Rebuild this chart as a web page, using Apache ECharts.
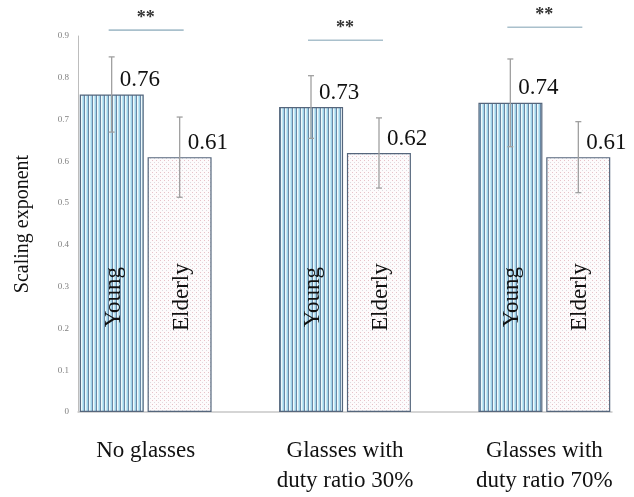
<!DOCTYPE html>
<html>
<head>
<meta charset="utf-8">
<script src="https://cdn.jsdelivr.net/npm/echarts@6/dist/echarts.min.js"></script>
<style>html,body{margin:0;padding:0;background:#fff;}#c{width:634px;height:497px;}</style>
</head>
<body>
<div id="c"></div>
<script>
const categories = ['No glasses', 'Glasses with\nduty ratio 30%', 'Glasses with\nduty ratio 70%'];
const groupNames = ['Young', 'Elderly'];
const youngValues = [0.76, 0.73, 0.74];
const elderlyValues = [0.61, 0.62, 0.61];
const youngErr = [0.09, 0.075, 0.105];
const elderlyErr = [0.096, 0.084, 0.085];
const sigLevels = [0.914, 0.890, 0.921];
const sigMarks = ['**', '**', '**'];
const yMin = 0, yMax = 0.9, yStep = 0.1;

const SERIF = '"Liberation Serif", "Times New Roman", serif';

function makePattern(fn, w, h) {
  const cv = document.createElement('canvas');
  cv.width = w; cv.height = h;
  fn(cv.getContext('2d'));
  return { image: cv, repeat: 'repeat' };
}
const youngPattern = makePattern(function (g) {
  const cols = ['#6a88a4', '#eef9fc', '#c4e8f3', '#9fd1ea'];
  cols.forEach(function (c, i) { g.fillStyle = c; g.fillRect(i, 0, 1, 4); });
}, 4, 4);
const elderlyPattern = makePattern(function (g) {
  g.fillStyle = '#fdfbfc'; g.fillRect(0, 0, 4, 4);
  g.fillStyle = '#e8c2c8'; g.fillRect(0, 0, 1, 1);
  g.fillStyle = '#dedbe0'; g.fillRect(2, 2, 1, 1);
}, 4, 4);

const BAR_W = 64;
const OFFSET = 34;

function errData(vals, errs) {
  return vals.map(function (v, i) { return [i, v, errs[i]]; });
}

function errorRender(sign, name) {
  return function (params, api) {
    const i = api.value(0), v = api.value(1), e = api.value(2);
    const c = api.coord([i, v]);
    const x = c[0] + sign * OFFSET;
    const top = api.coord([i, v + e])[1];
    const bot = api.coord([i, v - e])[1];
    const mid = api.coord([i, 0.275])[1];
    const st = { stroke: '#a0a0a0', lineWidth: 1.3 };
    return {
      type: 'group',
      children: [
        { type: 'line', shape: { x1: x, y1: top, x2: x, y2: bot }, style: st },
        { type: 'line', shape: { x1: x - 3, y1: top, x2: x + 3, y2: top }, style: st },
        { type: 'line', shape: { x1: x - 3, y1: bot, x2: x + 3, y2: bot }, style: st },
        { type: 'text', x: x + 8, y: c[1] - 3, style: {
            text: v.toFixed(2), fill: '#111', font: '23px ' + SERIF,
            align: 'left', verticalAlign: 'bottom' } },
        { type: 'text', x: x + 2, y: mid, rotation: Math.PI / 2, style: {
            text: name, fill: '#111', font: '23px ' + SERIF,
            align: 'center', verticalAlign: 'middle' } }
      ]
    };
  };
}

const option = {
  animation: false,
  backgroundColor: '#fff',
  grid: [
    { left: 46, width: 598, top: 36, bottom: 85, outerBoundsMode: 'none', containLabel: false },
    { left: 78, right: 22, top: 36, bottom: 85, outerBoundsMode: 'none', containLabel: false }
  ],
  xAxis: [
    { type: 'category', gridIndex: 0, data: categories,
      axisLine: { show: false }, axisTick: { show: false },
      axisLabel: { interval: 0, margin: 24, color: '#111', fontFamily: SERIF, fontSize: 23, lineHeight: 30 } },
    { type: 'value', gridIndex: 1, min: 0, max: 1, show: true,
      axisLine: { show: true, lineStyle: { color: '#c8c8c8', width: 1.5 } },
      axisTick: { show: false }, axisLabel: { show: false }, splitLine: { show: false } }
  ],
  yAxis: [
    { type: 'value', gridIndex: 0, min: yMin, max: yMax, interval: yStep, show: false },
    { type: 'value', gridIndex: 1, min: yMin, max: yMax, interval: yStep,
      name: 'Scaling exponent', nameLocation: 'middle', nameGap: 45,
      nameTextStyle: { fontFamily: SERIF, fontSize: 20, color: '#111' },
      axisLine: { show: true, lineStyle: { color: '#bdbdbd', width: 1 } },
      axisTick: { show: false }, splitLine: { show: false },
      axisLabel: { color: '#808080', fontSize: 9, fontFamily: SERIF, margin: 9 } }
  ],
  series: [
    { type: 'bar', name: groupNames[0], xAxisIndex: 0, yAxisIndex: 0, data: youngValues,
      barWidth: BAR_W, barGap: '6%',
      itemStyle: { color: youngPattern, borderColor: '#55667c', borderWidth: 1.2 } },
    { type: 'bar', name: groupNames[1], xAxisIndex: 0, yAxisIndex: 0, data: elderlyValues,
      barWidth: BAR_W, barGap: '6%',
      itemStyle: { color: elderlyPattern, borderColor: '#55667c', borderWidth: 1.2 } },
    { type: 'custom', xAxisIndex: 0, yAxisIndex: 0, z: 5,
      renderItem: errorRender(-1, groupNames[0]), data: errData(youngValues, youngErr) },
    { type: 'custom', xAxisIndex: 0, yAxisIndex: 0, z: 5,
      renderItem: errorRender(1, groupNames[1]), data: errData(elderlyValues, elderlyErr) },
    { type: 'custom', xAxisIndex: 0, yAxisIndex: 0, z: 5,
      data: sigLevels.map(function (v, i) { return [i, v, sigMarks[i]]; }),
      renderItem: function (params, api) {
        const i = api.value(0), v = api.value(1);
        const c = api.coord([i, v]);
        return {
          type: 'group',
          children: [
            { type: 'line', shape: { x1: c[0] - 37, y1: c[1], x2: c[0] + 38, y2: c[1] },
              style: { stroke: '#a9c0cc', lineWidth: 1.6 } },
            { type: 'text', x: c[0], y: c[1] - 3, style: {
                text: sigMarks[i], fill: '#333', font: 'bold 18px ' + SERIF,
                align: 'center', verticalAlign: 'bottom' } }
          ]
        };
      } }
  ]
};

const chart = echarts.init(document.getElementById('c'), null, { renderer: 'canvas' });
chart.setOption(option);
</script>
</body>
</html>
